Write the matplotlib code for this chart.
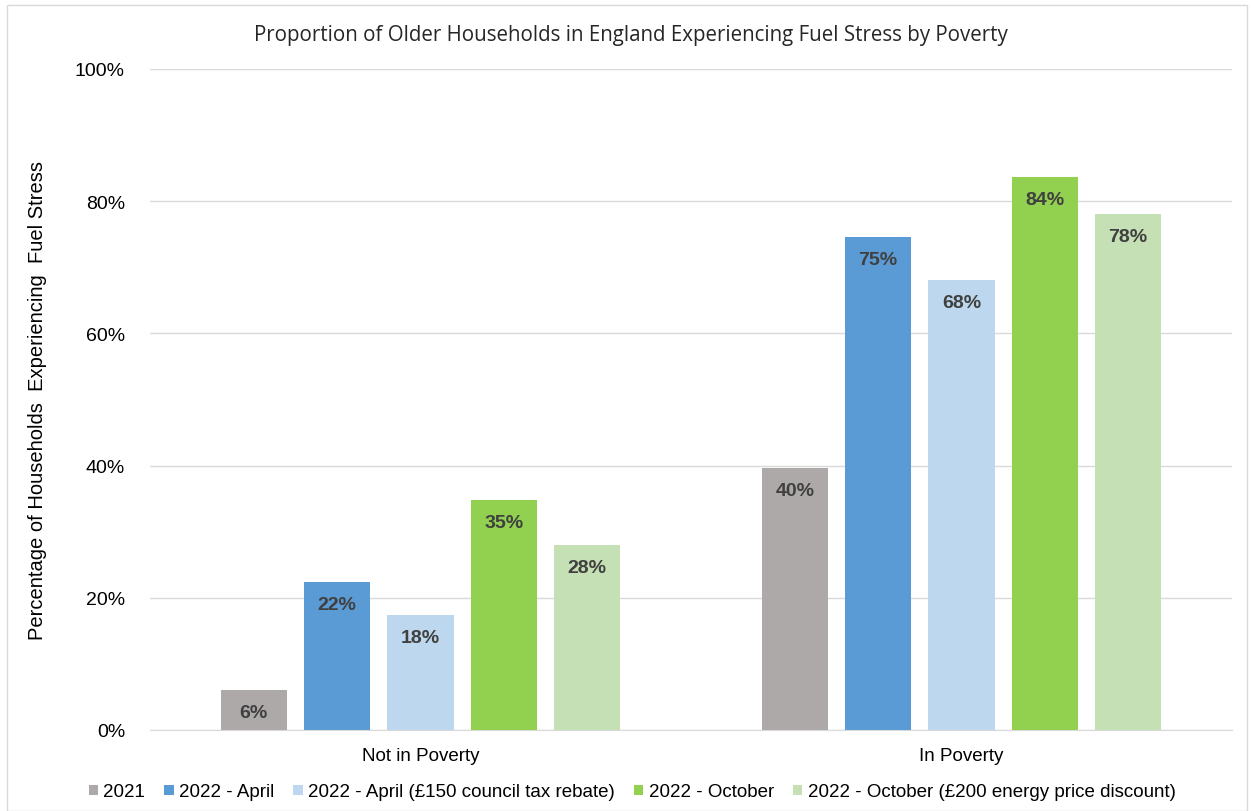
import numpy as np
import matplotlib.pyplot as plt
from matplotlib.patches import Rectangle

categories = ['Not in Poverty', 'In Poverty']
series = ['2021', '2022 - April', '2022 - April (£150 council tax rebate)',
          '2022 - October', '2022 - October (£200 energy price discount)']
values = [
    [6.05, 39.6],
    [22.4, 74.6],
    [17.4, 68.1],
    [34.8, 83.7],
    [28.0, 78.1],
]
labels = [['6%', '40%'], ['22%', '75%'], ['18%', '68%'], ['35%', '84%'], ['28%', '78%']]
colors = ['#ADA9A8', '#5B9BD5', '#BDD7EE', '#92D050', '#C5E0B4']

plt.rcParams['font.family'] = ['Liberation Sans', 'DejaVu Sans']

fig = plt.figure(figsize=(12.52, 8.12), dpi=100)
ax = fig.add_axes([150/1252, 1-731/812, 1082/1252, 661/812])

x = np.arange(len(categories))
w = 0.122
step = 0.154
for i, s in enumerate(series):
    pos = x + (i - 2) * step
    ax.bar(pos, values[i], width=w, color=colors[i], label=s, zorder=3)
    for p, v, lab in zip(pos, values[i], labels[i]):
        ax.text(p, v - 2.1, lab, ha='center', va='top', fontsize=14,
                fontweight='bold', color='#404040', zorder=4)

ax.set_xlim(-0.5, 1.5)
ax.set_ylim(0, 100)
ax.set_yticks(range(0, 101, 20))
ax.set_yticklabels([f'{t}%' for t in range(0, 101, 20)], fontsize=14)
ax.set_xticks(x)
ax.set_xticklabels(categories, fontsize=13.5)
ax.tick_params(length=0, pad=12)
ax.tick_params(axis='y', pad=18)
ax.grid(axis='y', color='#D9D9D9', linewidth=1, zorder=0)
for sp in ['top', 'right', 'left']:
    ax.spines[sp].set_visible(False)
ax.spines['bottom'].set_color('#D9D9D9')

ax.set_ylabel('Percentage of Households  Experiencing  Fuel Stress', fontsize=14.5, labelpad=20)
fig.text(631/1252, 1-35/812, 'Proportion of Older Households in England Experiencing Fuel Stress by Poverty',
         ha='center', va='center', fontsize=14.8, family='Open Sans', color='#262626')

fig.legend(*ax.get_legend_handles_labels(), loc='center', bbox_to_anchor=(632/1252, 1-793/812),
           ncol=5, frameon=False, fontsize=13.5, handlelength=0.5, handleheight=0.5,
           handletextpad=0.3, columnspacing=1.0)

fig.patches.append(Rectangle((7/1252, 0), 1240/1252, 1-6/812, transform=fig.transFigure,
                             fill=False, edgecolor='#D9D9D9', linewidth=1))

fig.savefig('out.png', dpi=100)
